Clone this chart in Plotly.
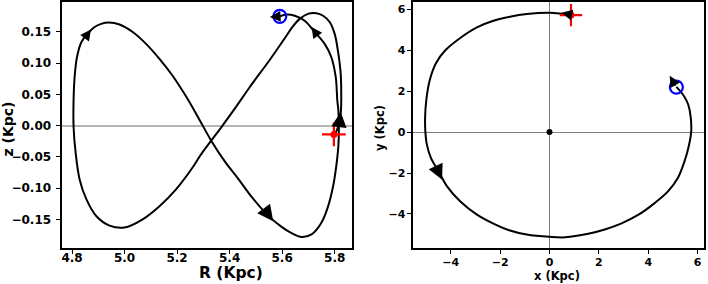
import plotly.graph_objects as go

# ---------------- data ----------------
# Meridional-plane orbit, R vs z (Kpc), from start (red) to end (blue)
R_orbit = [5.802, 5.817, 5.824, 5.825, 5.823, 5.812, 5.800, 5.781, 5.756, 5.731,
           5.698, 5.667, 5.641, 5.610, 5.554, 5.477, 5.421, 5.364, 5.330, 5.288,
           5.259, 5.196, 5.133, 5.069, 5.000, 4.943, 4.893, 4.855, 4.829, 4.814,
           4.806, 4.806, 4.810, 4.819, 4.836, 4.861, 4.886, 4.911, 4.940, 4.981,
           5.031, 5.082, 5.133, 5.183, 5.234, 5.282, 5.330, 5.383, 5.433, 5.484,
           5.547, 5.598, 5.636, 5.674, 5.712, 5.750, 5.775, 5.794, 5.806, 5.814,
           5.816, 5.814, 5.810, 5.804, 5.787, 5.762, 5.724, 5.686, 5.648, 5.617,
           5.591]
z_orbit = [-0.013, 0.003, 0.025, 0.049, 0.083, 0.121, 0.147, 0.166, 0.176, 0.180,
           0.179, 0.171, 0.159, 0.140, 0.106, 0.062, 0.028, -0.005, -0.024, -0.048,
           -0.067, -0.102, -0.129, -0.150, -0.163, -0.160, -0.145, -0.118, -0.086, -0.044,
           -0.002, 0.041, 0.078, 0.110, 0.134, 0.148, 0.158, 0.163, 0.165, 0.162,
           0.150, 0.131, 0.107, 0.080, 0.047, 0.012, -0.024, -0.058, -0.085, -0.114,
           -0.144, -0.162, -0.172, -0.178, -0.174, -0.155, -0.129, -0.097, -0.065, -0.033,
           -0.002, 0.025, 0.041, 0.078, 0.110, 0.131, 0.150, 0.168, 0.176, 0.178,
           0.175]

# Galactic-plane orbit, x vs y (Kpc), from start (red) to end (blue)
x_orbit = [0.87, 0.40, 0.00, -0.92, -1.60, -2.27, -2.94, -3.63, -4.22, -4.60,
           -4.85, -4.99, -5.04, -5.03, -4.97, -4.80, -4.49, -4.15, -3.61, -2.94,
           -2.27, -1.60, -0.92, 0.00, 0.65, 1.57, 2.24, 2.92, 3.59, 4.26,
           4.80, 5.20, 5.47, 5.64, 5.74, 5.72, 5.62, 5.44, 5.24, 5.14]
y_orbit = [5.72, 5.80, 5.83, 5.77, 5.64, 5.44, 5.12, 4.59, 4.00, 3.37,
           2.55, 1.58, 0.68, 0.05, -0.60, -1.27, -1.92, -2.65, -3.39, -4.03,
           -4.47, -4.81, -5.01, -5.12, -5.14, -4.97, -4.76, -4.46, -4.05, -3.47,
           -2.90, -2.24, -1.43, -0.70, 0.00, 0.75, 1.35, 1.78, 2.08, 2.20]

# start / end / centre markers
R_start, z_start = 5.797, -0.014
R_end, z_end = 5.591, 0.175
x_start, y_start = 0.87, 5.72
x_end, y_end = 5.14, 2.20
x_centre, y_centre = 0.0, 0.0

# direction arrows (tail -> tip)
rz_arrow_tail_R = [5.816, 4.848, 5.527, 5.737, 5.592]
rz_arrow_tail_z = [-0.004, 0.140, -0.131, 0.143, 0.175]
rz_arrow_tip_R = [5.823, 4.872, 5.566, 5.712, 5.553]
rz_arrow_tip_z = [0.022, 0.154, -0.153, 0.158, 0.174]
xy_arrow_tail_x = [0.95, -4.62, 5.14]
xy_arrow_tail_y = [5.71, -1.63, 2.20]
xy_arrow_tip_x = [0.49, -4.35, 4.87]
xy_arrow_tip_y = [5.83, -2.33, 2.75]

# ticks
rz_xticks = [4.8, 5.0, 5.2, 5.4, 5.6, 5.8]
rz_xtick_text = ["4.8", "5.0", "5.2", "5.4", "5.6", "5.8"]
rz_yticks = [-0.15, -0.10, -0.05, 0.0, 0.05, 0.10, 0.15]
rz_ytick_text = ["\u22120.15", "\u22120.10", "\u22120.05", "0.00", "0.05", "0.10", "0.15"]
xy_ticks = [-4, -2, 0, 2, 4, 6]
xy_tick_text = ["\u22124", "\u22122", "0", "2", "4", "6"]

# ---------------- styling ----------------
W, H = 708, 284
FONT = "DejaVu Sans"
rz_arrow_size = [1.9, 1.35, 2.0, 1.35, 1.35]
xy_arrow_size = [1.35, 1.9, 1.35]


def fx(p):
    return p / W


def fy(p):
    return (H - p) / H


fig = go.Figure()

# left panel
fig.add_trace(go.Scatter(x=R_orbit, y=z_orbit, mode="lines",
                         line=dict(color="black", width=2, shape="spline", smoothing=1.0),
                         xaxis="x", yaxis="y", showlegend=False, hoverinfo="skip"))
fig.add_trace(go.Scatter(x=[R_end], y=[z_end], mode="markers",
                         marker=dict(symbol="circle-open", size=13, color="blue",
                                     line=dict(color="blue", width=2.2)),
                         xaxis="x", yaxis="y", showlegend=False))
fig.add_trace(go.Scatter(x=[R_start], y=[z_start], mode="markers",
                         marker=dict(symbol="cross-thin", size=17, color="red",
                                     line=dict(color="red", width=2.2)),
                         xaxis="x", yaxis="y", showlegend=False))
fig.add_trace(go.Scatter(x=[R_start], y=[z_start], mode="markers",
                         marker=dict(symbol="circle", size=7, color="red"),
                         xaxis="x", yaxis="y", showlegend=False))

# right panel
fig.add_trace(go.Scatter(x=x_orbit, y=y_orbit, mode="lines",
                         line=dict(color="black", width=2, shape="spline", smoothing=1.0),
                         xaxis="x2", yaxis="y2", showlegend=False, hoverinfo="skip"))
fig.add_trace(go.Scatter(x=[x_centre], y=[y_centre], mode="markers",
                         marker=dict(symbol="circle", size=6, color="black"),
                         xaxis="x2", yaxis="y2", showlegend=False))
fig.add_trace(go.Scatter(x=[x_end], y=[y_end], mode="markers",
                         marker=dict(symbol="circle-open", size=13, color="blue",
                                     line=dict(color="blue", width=2.2)),
                         xaxis="x2", yaxis="y2", showlegend=False))
fig.add_trace(go.Scatter(x=[x_start], y=[y_start], mode="markers",
                         marker=dict(symbol="cross-thin", size=16, color="red",
                                     line=dict(color="red", width=2.2)),
                         xaxis="x2", yaxis="y2", showlegend=False))
fig.add_trace(go.Scatter(x=[x_start], y=[y_start], mode="markers",
                         marker=dict(symbol="circle", size=7, color="red"),
                         xaxis="x2", yaxis="y2", showlegend=False))

annotations = []
for tx, ty, hx, hy, s in zip(rz_arrow_tail_R, rz_arrow_tail_z, rz_arrow_tip_R, rz_arrow_tip_z,
                             rz_arrow_size):
    annotations.append(dict(x=hx, y=hy, ax=tx, ay=ty, xref="x", yref="y", axref="x", ayref="y",
                            text="", showarrow=True, arrowhead=2, arrowsize=s, arrowwidth=1.6,
                            arrowcolor="black", standoff=0, startstandoff=0))
for tx, ty, hx, hy, s in zip(xy_arrow_tail_x, xy_arrow_tail_y, xy_arrow_tip_x, xy_arrow_tip_y,
                             xy_arrow_size):
    annotations.append(dict(x=hx, y=hy, ax=tx, ay=ty, xref="x2", yref="y2", axref="x2", ayref="y2",
                            text="", showarrow=True, arrowhead=2, arrowsize=s, arrowwidth=1.6,
                            arrowcolor="black", standoff=0, startstandoff=0))

# axis titles as paper annotations
title_font = lambda s: dict(family=FONT, size=s, color="black", weight="bold")
annotations += [
    dict(text="R (Kpc)", x=fx(231), y=fy(272.5), xref="paper", yref="paper",
         showarrow=False, xanchor="center", yanchor="middle", font=title_font(15.5)),
    dict(text="z (Kpc)", x=fx(7.5), y=fy(129), xref="paper", yref="paper", textangle=-90,
         showarrow=False, xanchor="center", yanchor="middle", font=title_font(14)),
    dict(text="x (Kpc)", x=fx(557), y=fy(276), xref="paper", yref="paper",
         showarrow=False, xanchor="center", yanchor="middle", font=title_font(11.5)),
    dict(text="y (Kpc)", x=fx(380), y=fy(128), xref="paper", yref="paper", textangle=-90,
         showarrow=False, xanchor="center", yanchor="middle", font=title_font(11.5)),
]

common_axis = dict(showline=True, mirror=True, linecolor="black", linewidth=2,
                   ticks="outside", ticklen=4, tickwidth=1.2, tickcolor="black",
                   showgrid=False, automargin=False)

fig.update_layout(
    width=W, height=H, autosize=False,
    margin=dict(l=0, r=0, t=0, b=0),
    paper_bgcolor="white", plot_bgcolor="white",
    annotations=annotations,
    xaxis=dict(common_axis,
               domain=[fx(61.5), fx(352)],
               range=[4.760, 5.866],
               tickvals=rz_xticks, ticktext=rz_xtick_text,
               tickfont=dict(family=FONT, size=12, color="black", weight="bold"),
               ticklabelstandoff=-6,
               zeroline=False),
    yaxis=dict(common_axis,
               domain=[fy(247.5), fy(2)],
               range=[-0.195, 0.198],
               tickvals=rz_yticks, ticktext=rz_ytick_text,
               tickfont=dict(family=FONT, size=12, color="black", weight="bold"),
               ticklabelstandoff=2,
               zeroline=True, zerolinecolor="#b5b5b5", zerolinewidth=1.6),
    xaxis2=dict(common_axis,
                anchor="y2",
                domain=[fx(412.5), fx(703.5)],
                range=[-5.55, 6.24],
                tickvals=xy_ticks, ticktext=xy_tick_text,
                tickfont=dict(family=FONT, size=11, color="black", weight="bold"),
                ticklabelstandoff=-1,
                zeroline=True, zerolinecolor="#808080", zerolinewidth=1),
    yaxis2=dict(common_axis,
                anchor="x2",
                domain=[fy(247.5), fy(2)],
                range=[-5.64, 6.36],
                tickvals=xy_ticks, ticktext=xy_tick_text,
                tickfont=dict(family=FONT, size=11, color="black", weight="bold"),
                ticklabelstandoff=-1,
                zeroline=True, zerolinecolor="#808080", zerolinewidth=1),
)

fig.write_html("out.html")
